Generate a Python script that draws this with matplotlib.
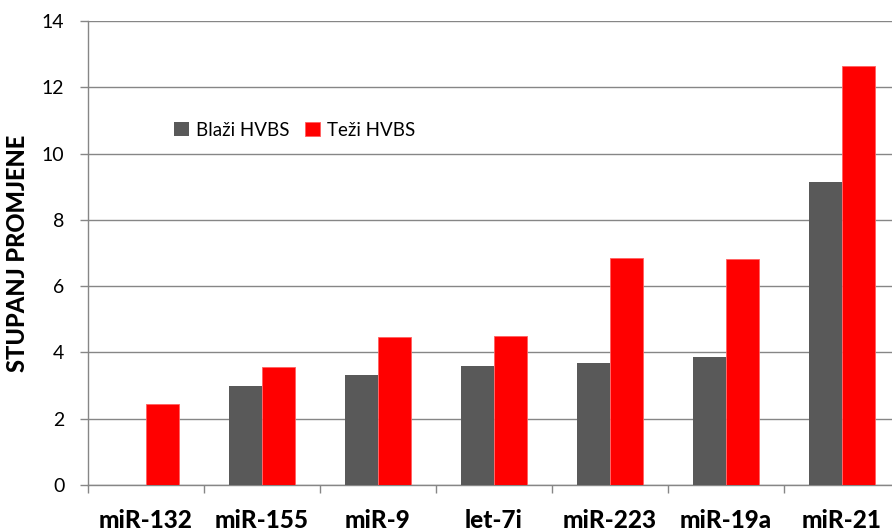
import matplotlib
matplotlib.use("Agg")
import matplotlib.pyplot as plt
import numpy as np

categories = ["miR-132", "miR-155", "miR-9", "let-7i", "miR-223", "miR-19a", "miR-21"]
blazi = [0.0, 2.99, 3.33, 3.59, 3.69, 3.86, 9.15]
tezi = [2.43, 3.57, 4.47, 4.50, 6.84, 6.81, 12.65]
series_names = ["Blaži HVBS", "Teži HVBS"]
yticks = [0, 2, 4, 6, 8, 10, 12, 14]

plt.rcParams['font.family'] = ['Lato', 'DejaVu Sans']

fig = plt.figure(figsize=(8.92, 5.31), dpi=100)
ax = fig.add_axes([88/892, 1-485/531, 812/892, 464/531])

x = np.arange(len(categories))
w = 0.284
grid_c = "#868686"
ax.bar(x - w/2, blazi, width=w, color="#595959", label=series_names[0], zorder=3, linewidth=0)
ax.bar(x + w/2, tezi, width=w, color="#FF0000", edgecolor="#FF6060", linewidth=0.6, label=series_names[1], zorder=3)

ax.set_xlim(-0.5, len(categories) - 0.5)
ax.set_ylim(0, 14)
ax.set_yticks(yticks)
ax.set_yticklabels([str(v) for v in yticks], fontsize=14)
ax.yaxis.grid(True, color=grid_c, linewidth=1.0, zorder=0)
ax.set_axisbelow(True)

ax.set_xticks(x)
ax.set_xticklabels(categories, fontsize=17.5, fontweight='black')
ax.set_xticks(np.arange(len(categories) + 1) - 0.5, minor=True)
ax.tick_params(axis='x', which='major', length=0, pad=17)
ax.tick_params(axis='x', which='minor', length=6, color=grid_c, width=1)
ax.tick_params(axis='y', length=6, color=grid_c, width=1, pad=11)

for s in ['top', 'right']:
    ax.spines[s].set_visible(False)
for s in ['left', 'bottom']:
    ax.spines[s].set_color(grid_c)
    ax.spines[s].set_linewidth(1.0)

ax.set_ylabel("STUPANJ PROMJENE", fontsize=17, fontweight='black', labelpad=9)

leg = ax.legend(loc='center left', bbox_to_anchor=(0.085, 0.765), ncol=2, frameon=False,
                fontsize=13.5, handlelength=0.8, handleheight=0.8, handletextpad=0.4,
                columnspacing=0.8)

fig.savefig("out.png", dpi=100)
